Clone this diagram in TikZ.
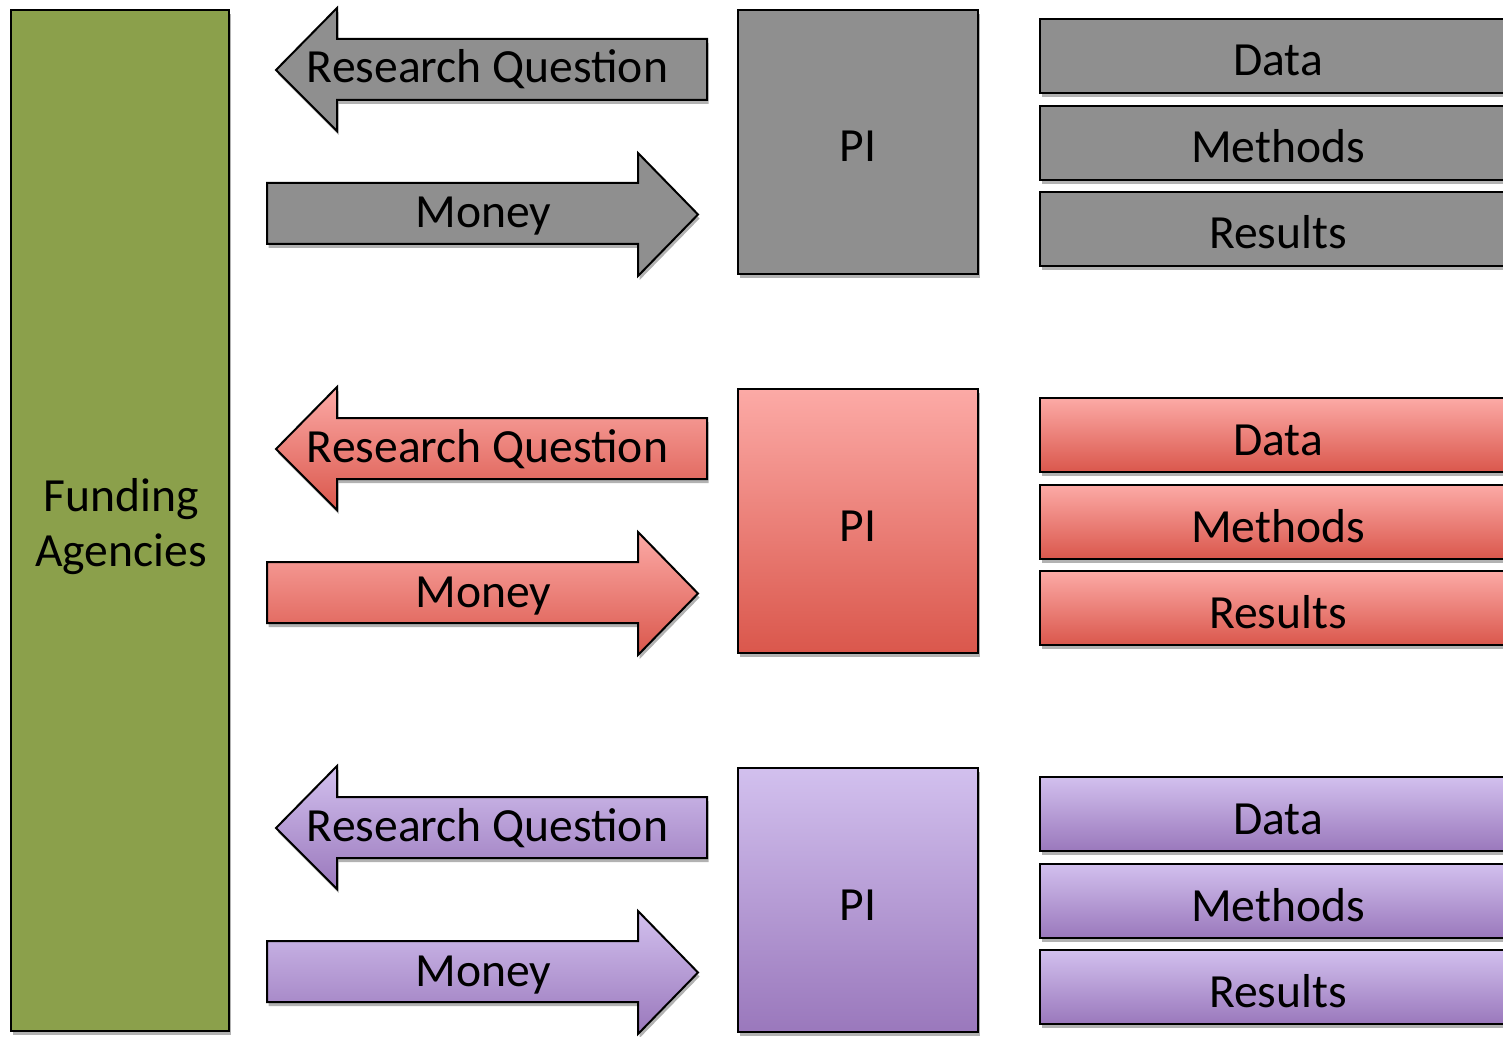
\documentclass[tikz,border=0pt]{standalone}
\usepackage{fontspec}
\setmainfont{Carlito}
\usetikzlibrary{shadows}
\definecolor{agency}{HTML}{8BA04B}
\definecolor{grayfill}{HTML}{8F8F8F}
\definecolor{redtop}{HTML}{FCAAA6}
\definecolor{redbot}{HTML}{DA574C}
\definecolor{purptop}{HTML}{D2C0EE}
\definecolor{purpbot}{HTML}{9A78BC}
\begin{document}
\begin{tikzpicture}[x=0.5pt,y=-0.5pt,
  sh/.style={drop shadow={shadow xshift=0.8pt,shadow yshift=-2pt,opacity=0.3,fill=black}},
  frame/.style={draw=black,line width=1pt,sh},
  bigfont/.style={font=\fontsize{23.8pt}{27.5pt}\selectfont},
  box/.style={frame,bigfont,inner sep=0pt,text height=20pt,text depth=0pt},
  lbl/.style={bigfont,inner sep=0pt},
  grayrow/.style={fill=grayfill},
  redrow/.style={top color=redtop,bottom color=redbot},
  purprow/.style={top color=purptop,bottom color=purpbot}
]
\clip (0,0) rectangle (1503,1037);
\fill[white] (0,0) rectangle (1503,1037);
\node[frame,fill=agency,minimum width=109pt,minimum height=510.5pt,inner sep=0pt]
  (fund) at (120,520.5) {};
\node[lbl,align=center] (fundtext) at (121,527) {Funding\\Agencies};
\foreach \i/\st in {0/grayrow,1/redrow,2/purprow}{
  \begin{scope}[shift={(0,379*\i)}]
    \path[frame,\st] (276,70) -- (337,8) -- (337,39) -- (707,39) -- (707,100)
      -- (337,100) -- (337,131) -- cycle;
    \node[lbl,anchor=base] (rq\i) at (487.5,83) {Research Question};
    \path[frame,\st] (267,183) -- (638,183) -- (638,153) -- (698,214.5)
      -- (638,276) -- (638,244) -- (267,244) -- cycle;
    \node[lbl,anchor=base] (money\i) at (483.5,228) {Money};
    \node[box,\st,minimum width=120pt,minimum height=132pt] (pi\i) at (858,142) {PI};
    \node[box,\st,minimum width=238pt,minimum height=37pt] (data\i) at (1278,56) {Data};
    \node[box,\st,minimum width=238pt,minimum height=37pt] (methods\i) at (1278,143) {Methods};
    \node[box,\st,minimum width=238pt,minimum height=37pt] (results\i) at (1278,229) {Results};
  \end{scope}
}
\end{tikzpicture}
\end{document}
